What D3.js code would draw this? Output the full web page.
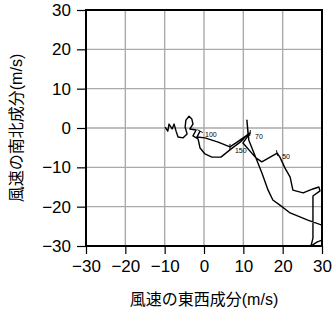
<!DOCTYPE html>
<meta charset="utf-8">
<style>
    body { margin: 0; background: #fff; }
    .axis text { font: 17px "Liberation Sans", Arial, sans-serif; fill: #000; }
    .axis line, .axis path { stroke: #000; stroke-width: 1.2px; }
    .grid line { stroke: #aaa; stroke-width: 1.4px; }
    .title { font: 16px "Noto Sans CJK JP", sans-serif; fill: #000; }
    .title tspan.unit { font-family: "Liberation Sans", Arial, sans-serif; }
    .lev { font: 7px "Liberation Sans", Arial, sans-serif; fill: #000; }
</style>
<svg width="332" height="319"></svg>
<script src="https://d3js.org/d3.v7.min.js"></script>
<script>

    // hodograph: east-west (u) and north-south (v) wind components, m/s
    var uWind = [-9.9, -9.2, -8.9, -8.1, -7.6, -7.1, -6.6, -5.3, -4.3, -4.8,
        -4.6, -3.8, -3.1, -2.8, -3.6, -2.0, -2.8, -1.5, -1.0, 0.25,
        2.0, 4.3, 6.9, 9.2, 11.2, 10.9, 11.4, 13.0, 14.7, 16.3,
        17.5, 19.3, 21.9, 26.4, 30.0, 31.0, 30.0, 28.7, 27.2, 27.7,
        27.7, 27.7, 29.5, 29.2, 27.7, 25.2, 22.6, 21.9, 20.6, 19.3,
        18.6, 14.7, 13.2, 9.9, 11.7, 8.4, 6.6, 3.6, 0.25, -1.8, -1.0];
    var vWind = [0.25, -0.8, 1.0, -0.25, 1.0, -0.8, -2.3, -2.5, -1.5, 0.25,
        2.0, 3.0, 2.3, 1.0, -0.25, -0.5, -2.0, -2.8, -5.1, -6.6,
        -7.4, -7.4, -5.3, -3.6, -1.5, 2.0, -3.1, -7.1, -11.4, -15.8,
        -18.3, -19.6, -21.6, -23.4, -24.7, -26.4, -28.5, -29.0, -30.0, -28.0,
        -22.1, -17.3, -16.0, -15.0, -15.5, -16.5, -15.8, -12.5, -10.2, -7.4,
        -6.4, -8.6, -7.6, -3.8, -1.3, -3.6, -4.8, -3.6, -2.5, -2.3, -0.8];

    // labelled levels along the line
    var levelNames = ["150", "100", "70", "50"];
    var levelIndex = [56, 60, 54, 50];

    var tickValues = [-30, -20, -10, 0, 10, 20, 30];

    var svg = d3.select("svg"),
        pLeft = 86, pRight = 322, pTop = 10, pBottom = 246;

    var x = d3.scaleLinear().domain([-30, 30]).range([pLeft, pRight]);
    var y = d3.scaleLinear().domain([-30, 30]).range([pBottom, pTop]);

    // grid
    var grid = svg.append("g").attr("class", "grid");
    grid.selectAll(".gx").data(tickValues.slice(1, -1)).enter().append("line")
        .attr("x1", function (d) { return x(d); }).attr("x2", function (d) { return x(d); })
        .attr("y1", pTop).attr("y2", pBottom);
    grid.selectAll(".gy").data(tickValues.slice(1, -1)).enter().append("line")
        .attr("y1", function (d) { return y(d); }).attr("y2", function (d) { return y(d); })
        .attr("x1", pLeft).attr("x2", pRight);

    svg.append("clipPath").attr("id", "clip")
        .append("rect").attr("x", pLeft).attr("y", pTop)
        .attr("width", pRight - pLeft).attr("height", pBottom - pTop);

    var pts = uWind.map(function (u, i) { return [x(u), y(vWind[i])]; });

    svg.append("path")
        .attr("clip-path", "url(#clip)")
        .attr("d", d3.line()(pts))
        .attr("fill", "none")
        .attr("stroke", "#000")
        .attr("stroke-width", 1.4)
        .attr("stroke-linejoin", "round");

    // small cross marks and level labels
    levelIndex.forEach(function (k, j) {
        var p = pts[k], a = pts[Math.max(k - 1, 0)], b = pts[Math.min(k + 1, pts.length - 1)];
        var dx = b[0] - a[0], dy = b[1] - a[1], len = Math.sqrt(dx * dx + dy * dy) || 1;
        var nx = -dy / len * 3, ny = dx / len * 3;
        svg.append("line")
            .attr("x1", p[0] - nx).attr("y1", p[1] - ny)
            .attr("x2", p[0] + nx).attr("y2", p[1] + ny)
            .attr("stroke", "#000").attr("stroke-width", 1);
        svg.append("text").attr("class", "lev")
            .attr("x", p[0] + 5).attr("y", p[1] + 6)
            .text(levelNames[j]);
    });

    // frame
    svg.append("rect")
        .attr("x", pLeft).attr("y", pTop)
        .attr("width", pRight - pLeft).attr("height", pBottom - pTop)
        .attr("fill", "none").attr("stroke", "#000").attr("stroke-width", 2);

    // axes
    svg.append("g").attr("class", "axis")
        .attr("transform", "translate(0," + pBottom + ")")
        .call(d3.axisBottom(x).tickValues(tickValues).tickSize(8).tickPadding(6));
    svg.append("g").attr("class", "axis")
        .attr("transform", "translate(" + pLeft + ",0)")
        .call(d3.axisLeft(y).tickValues(tickValues).tickSize(9).tickPadding(6));
    svg.selectAll(".axis .domain").remove();

    // titles
    var xt = svg.append("text").attr("class", "title")
        .attr("x", (pLeft + pRight) / 2).attr("y", 305)
        .attr("text-anchor", "middle");
    xt.append("tspan").text("風速の東西成分");
    xt.append("tspan").attr("class", "unit").text("(m/s)");

    var yt = svg.append("text").attr("class", "title")
        .attr("transform", "translate(22," + (pTop + pBottom) / 2 + ") rotate(-90)")
        .attr("text-anchor", "middle");
    yt.append("tspan").text("風速の南北成分");
    yt.append("tspan").attr("class", "unit").text("(m/s)");

</script>
